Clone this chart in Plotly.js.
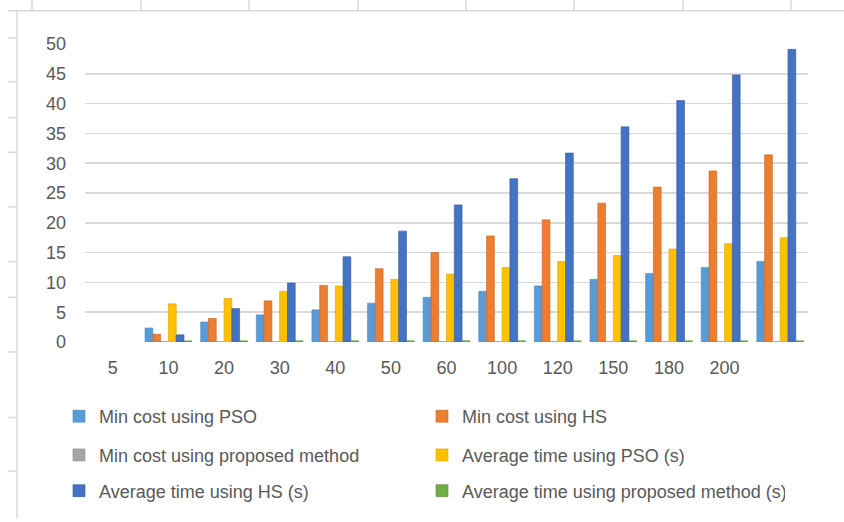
<!DOCTYPE html>
<html>
<head>
<meta charset="utf-8">
<script src="https://cdn.plot.ly/plotly-3.0.1.min.js"></script>
<style>
  html, body { margin: 0; padding: 0; background: #ffffff; }
  #chart { width: 844px; height: 522px; }
</style>
</head>
<body>
<div id="chart"></div>
<script>
// Problem sizes shown on the category axis (the last slot carries no label)
const sizeLabels = ['5', '10', '20', '30', '40', '50', '60', '100', '120', '150', '180', '200', ''];

// Series values per slot (first slot is empty)
const minCostPSO      = [null, 2.35, 3.35, 4.55, 5.4, 6.5, 7.5, 8.5, 9.4, 10.5, 11.5, 12.5, 13.5];
const minCostHS       = [null, 1.3, 3.95, 6.9, 9.5, 12.3, 15.0, 17.8, 20.5, 23.3, 26.0, 28.7, 31.4];
const minCostProposed = [null, 0.05, 0.05, 0.05, 0.05, 0.05, 0.05, 0.05, 0.05, 0.05, 0.05, 0.05, 0.05];
const avgTimePSO      = [null, 6.4, 7.3, 8.5, 9.4, 10.5, 11.4, 12.5, 13.5, 14.5, 15.6, 16.5, 17.5];
const avgTimeHS       = [null, 1.2, 5.6, 9.9, 14.3, 18.6, 23.0, 27.4, 31.7, 36.1, 40.5, 44.8, 49.1];
const avgTimeProposed = [null, 0.2, 0.2, 0.2, 0.2, 0.2, 0.2, 0.2, 0.2, 0.2, 0.2, 0.2, 0.2];

const seriesNames = [
  'Min cost using PSO',
  'Min cost using HS',
  'Min cost using proposed method',
  'Average time using PSO (s)',
  'Average time using HS (s)',
  'Average time using proposed method (s)'
];

// Page geometry
const W = 844, H = 522;
const M = { l: 85, r: 36, t: 44, b: 178 };
const plotW = W - M.l - M.r;
const plotH = H - M.t - M.b;
const px = v => (v - M.l) / plotW;       // page x pixel -> paper x
const py = v => (H - M.b - v) / plotH;   // page y pixel -> paper y

const colors = ['#5B9BD5', '#ED7D31', '#A5A5A5', '#FFC000', '#4472C4', '#70AD47'];
const edges  = ['#4a86bf', '#c9651f', '#8c8c8c', '#d9a300', '#34599c', '#5a9138'];
const values = [minCostPSO, minCostHS, minCostProposed, avgTimePSO, avgTimeHS, avgTimeProposed];
const legendOf = ['legend', 'legend', 'legend2', 'legend2', 'legend3', 'legend3'];

const slots = sizeLabels.map((_, i) => i);

const traces = values.map((vals, k) => ({
  type: 'bar',
  name: seriesNames[k],
  x: slots,
  y: vals,
  legend: legendOf[k],
  marker: { color: colors[k], line: { color: edges[k], width: 0.6 } },
  hoverinfo: 'name+y'
}));

const FONT = '"Liberation Sans", Arial, sans-serif';
const FS = 18;
const TXT = '#595959';
const FRAME = '#d9d9d9';

// Outer frame lines with their small tick marks
const shapes = [];
const line = (x0, y0, x1, y1) => shapes.push({
  type: 'line', xref: 'paper', yref: 'paper',
  x0: px(x0), y0: py(y0), x1: px(x1), y1: py(y1),
  line: { color: FRAME, width: 1.5 }
});
line(8, 10.5, W, 10.5);
line(17, 10, 17, H);
[32, 141, 249, 358, 466, 574, 683, 791].forEach(x => line(x, 0, x, 10));
[38, 82, 118, 153, 208, 263, 299, 354, 420, 474].forEach(y => line(8, y, 17, y));

const legendBase = {
  orientation: 'h',
  xanchor: 'left',
  yanchor: 'middle',
  x: px(59),
  entrywidth: 318,
  font: { family: FONT, size: FS, color: TXT },
  bgcolor: 'rgba(0,0,0,0)',
  traceorder: 'normal'
};

const layout = {
  width: W,
  height: H,
  margin: M,
  paper_bgcolor: '#ffffff',
  plot_bgcolor: '#ffffff',
  font: { family: FONT, size: FS, color: TXT },
  barmode: 'group',
  bargap: 0.16,
  bargroupgap: 0,
  showlegend: true,
  xaxis: {
    range: [-0.5, sizeLabels.length - 0.5],
    tickmode: 'array',
    tickvals: slots,
    ticktext: sizeLabels,
    showgrid: false,
    zeroline: false,
    showline: false,
    ticks: '',
    ticklabelstandoff: 13,
    tickfont: { family: FONT, size: FS, color: TXT },
    fixedrange: true
  },
  yaxis: {
    range: [0, 50],
    dtick: 5,
    showgrid: true,
    gridcolor: FRAME,
    gridwidth: 1.6,
    zeroline: false,
    showline: false,
    ticks: '',
    ticklabelstandoff: 18,
    tickfont: { family: FONT, size: FS, color: TXT },
    fixedrange: true
  },
  legend:  Object.assign({}, legendBase, { y: py(419) }),
  legend2: Object.assign({}, legendBase, { y: py(458) }),
  legend3: Object.assign({}, legendBase, { y: py(494) }),
  shapes: shapes
};

Plotly.newPlot('chart', traces, layout, { displayModeBar: false, staticPlot: true });
</script>
</body>
</html>
